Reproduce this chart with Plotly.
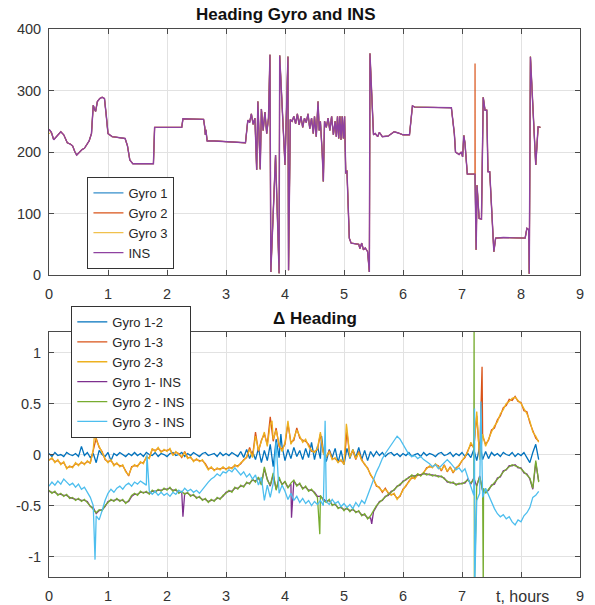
import plotly.graph_objects as go

# ---------------- Top chart: heading (deg) vs time (hours) ----------------
ins_t = [0.00, 0.04, 0.08, 0.14, 0.20, 0.25, 0.31, 0.36, 0.40, 0.44, 0.47, 0.52, 0.56, 0.60,
         0.64, 0.68, 0.72, 0.75, 0.77, 0.79, 0.82, 0.86, 0.90, 0.94, 0.97, 1.00, 1.07, 1.20,
         1.29, 1.33, 1.37, 1.42, 1.60, 1.77, 1.79, 2.00, 2.25, 2.27, 2.45, 2.62, 2.64, 2.65,
         2.66, 2.68, 2.80, 3.00, 3.20, 3.33, 3.37, 3.40, 3.43, 3.46, 3.49, 3.52, 3.54, 3.56,
         3.58, 3.60, 3.63, 3.66, 3.69, 3.72, 3.745, 3.76, 3.84, 3.90, 3.91, 4.00, 4.05, 4.06,
         4.09, 4.12, 4.15, 4.18, 4.21, 4.24, 4.27, 4.30, 4.33, 4.36, 4.39, 4.42, 4.45, 4.48,
         4.50, 4.53, 4.56, 4.58, 4.60, 4.63, 4.65, 4.67, 4.70, 4.73, 4.76, 4.79, 4.82, 4.85,
         4.87, 4.89, 4.91, 4.93, 4.95, 4.97, 4.99, 5.01, 5.03, 5.05, 5.09, 5.12, 5.20, 5.25,
         5.27, 5.30, 5.33, 5.36, 5.40, 5.43, 5.44, 5.50, 5.53, 5.57, 5.60, 5.65, 5.75, 5.80,
         5.85, 5.92, 6.00, 6.11, 6.16, 6.20, 6.50, 6.82, 6.87, 6.89, 6.95, 6.99, 7.01, 7.03,
         7.05, 7.09, 7.22, 7.24, 7.255, 7.29, 7.33, 7.36, 7.39, 7.42, 7.44, 7.47, 7.54, 7.57,
         7.70, 8.07, 8.10, 8.13, 8.14, 8.16, 8.25, 8.29, 8.33]
ins_v = [237, 232, 220, 226, 233, 228, 215, 213, 210, 200, 195, 200, 204, 206,
         212, 218, 230, 276, 270, 266, 282, 287, 289, 287, 260, 230, 225, 223,
         222, 210, 187, 181, 181, 181, 240, 240, 240, 254, 253, 253, 240, 228,
         236, 218, 218, 217, 215, 215, 252, 248, 262, 245, 255, 171, 282, 240,
         172, 270, 235, 265, 230, 255, 358, 5, 195, 3, 357, 179, 355, 8,
         253, 250, 258, 246, 262, 244, 258, 240, 255, 248, 262, 238, 255, 230,
         258, 225, 282, 235, 250, 200, 152, 250, 240, 255, 235, 258, 228, 250,
         225, 258, 222, 258, 220, 258, 222, 258, 165, 170, 60, 52, 50, 50,
         43, 52, 41, 44, 38, 5, 360, 228, 230, 225, 232, 225, 226, 230,
         233, 231, 228, 228, 275, 273, 272, 272, 230, 200, 196, 200, 192, 227,
         215, 164, 164, 41, 146, 92, 91, 289, 268, 268, 168, 168, 38, 60,
         61, 60, 76, 74, 2, 355, 179, 241, 240]

# The three gyro headings lie on top of the INS heading (read as identical),
# except Gyro 3 at the very start and the Gyro 2 spike near 7.22 h.
gyro1_t = list(ins_t)
gyro1_v = list(ins_v)
gyro2_spike = [(7.221, 344), (7.223, 164)]
gyro3_t = list(ins_t)
gyro3_v = [230] + ins_v[1:]

# ---------------- Bottom chart: delta heading vs time ----------------
t_delta = [0.00, 0.05, 0.10, 0.15, 0.20, 0.25, 0.30, 0.35, 0.40, 0.45,
           0.50, 0.55, 0.60, 0.65, 0.70, 0.75, 0.80, 0.85, 0.90, 0.95,
           1.00, 1.05, 1.10, 1.15, 1.20, 1.25, 1.30, 1.35, 1.40, 1.45,
           1.50, 1.55, 1.60, 1.65, 1.70, 1.75, 1.80, 1.85, 1.90, 1.95,
           2.00, 2.05, 2.10, 2.15, 2.20, 2.25, 2.30, 2.35, 2.40, 2.45,
           2.50, 2.55, 2.60, 2.65, 2.70, 2.75, 2.80, 2.85, 2.90, 2.95,
           3.00, 3.05, 3.10, 3.15, 3.20, 3.25, 3.30, 3.35, 3.40, 3.45,
           3.50, 3.55, 3.60, 3.65, 3.70, 3.75, 3.80, 3.85, 3.90, 3.95,
           4.00, 4.05, 4.10, 4.15, 4.20, 4.25, 4.30, 4.35, 4.40, 4.45,
           4.50, 4.55, 4.60, 4.65, 4.70, 4.75, 4.80, 4.85, 4.90, 4.95,
           5.00, 5.05, 5.10, 5.15, 5.20, 5.25, 5.30, 5.35, 5.40, 5.45,
           5.50, 5.55, 5.60, 5.65, 5.70, 5.75, 5.80, 5.85, 5.90, 5.95,
           6.00, 6.05, 6.10, 6.15, 6.20, 6.25, 6.30, 6.35, 6.40, 6.45,
           6.50, 6.55, 6.60, 6.65, 6.70, 6.75, 6.80, 6.85, 6.90, 6.95,
           7.00, 7.05, 7.10, 7.15, 7.20, 7.25, 7.30, 7.35, 7.40, 7.45,
           7.50, 7.55, 7.60, 7.65, 7.70, 7.75, 7.80, 7.85, 7.90, 7.95,
           8.00, 8.05, 8.10, 8.15, 8.20, 8.25, 8.30]

d12 = [0.01, -0.02, 0.02, -0.01, 0.00, -0.02, 0.02, 0.00, -0.01, 0.01,
       -0.02, 0.08, -0.01, 0.02, -0.03, 0.01, -0.08, 0.04, 0.00, -0.02,
       0.02, -0.06, 0.01, -0.01, 0.02, 0.00, -0.02, 0.01, -0.01, 0.02,
       -0.01, 0.01, -0.02, 0.02, 0.00, -0.01, 0.02, -0.02, 0.01, 0.00,
       -0.02, 0.01, 0.02, -0.01, 0.00, 0.02, -0.02, 0.01, -0.01, 0.02,
       0.00, -0.02, 0.01, 0.02, -0.01, 0.00, 0.01, -0.02, 0.02, -0.01,
       0.01, -0.01, 0.02, 0.00, -0.02, 0.03, -0.03, 0.05, -0.04, 0.03,
       -0.05, 0.06, -0.08, 0.04, -0.06, 0.10, -0.12, 0.15, -0.03, 0.08,
       -0.06, 0.05, -0.04, 0.07, -0.02, 0.04, -0.05, 0.06, -0.03, 0.12,
       -0.05, 0.08, -0.04, 0.03, -0.07, 0.05, -0.03, 0.06, -0.08, 0.04,
       -0.10, 0.06, -0.04, 0.05, -0.03, 0.07, -0.05, 0.04, -0.06, 0.03,
       -0.02, 0.03, -0.01, 0.02, -0.02, 0.01, 0.02, -0.01, 0.01, -0.02,
       0.01, -0.01, 0.02, -0.02, 0.00, 0.01, -0.02, 0.02, -0.01, 0.01,
       0.00, -0.02, 0.01, 0.02, -0.01, 0.00, 0.02, -0.02, 0.01, -0.01,
       0.02, -0.02, 0.01, -0.03, 0.05, -0.06, 0.08, -0.05, 0.03, -0.04,
       0.02, -0.01, 0.01, -0.02, 0.02, 0.00, -0.01, 0.02, -0.02, 0.01,
       -0.01, 0.02, -0.03, -0.08, 0.02, 0.10, -0.05]
d12_spikes = [(3.93, 0.20), (4.62, 0.18), (7.30, 0.12)]

d13 = [-0.05, -0.04, -0.07, -0.06, -0.09, -0.08, -0.13, -0.12, -0.12, -0.09,
       -0.10, -0.08, -0.09, -0.07, -0.08, 0.03, 0.16, 0.07, 0.03, -0.05,
       -0.07, -0.06, -0.10, -0.09, -0.11, -0.11, -0.16, -0.21, -0.12, -0.11,
       -0.11, -0.08, -0.08, -0.03, -0.03, 0.05, 0.04, 0.06, 0.03, 0.04,
       0.04, 0.05, 0.00, 0.02, 0.01, -0.03, 0.03, -0.03, -0.03, -0.06,
       -0.05, -0.06, -0.06, -0.09, -0.14, -0.13, -0.15, -0.14, -0.14, -0.13,
       -0.14, -0.13, -0.13, -0.11, -0.11, -0.09, -0.05, -0.03, 0.07, -0.02,
       0.22, 0.03, 0.14, 0.20, 0.10, 0.37, 0.13, 0.26, 0.08, 0.05,
       0.10, 0.30, 0.12, 0.14, 0.26, 0.16, 0.14, 0.13, 0.10, 0.03,
       0.03, 0.05, 0.20, 0.02, -0.03, 0.04, -0.04, -0.04, -0.07, -0.06,
       -0.09, 0.22, -0.02, 0.04, -0.05, 0.03, -0.05, -0.10, -0.13, -0.20,
       -0.24, -0.31, -0.32, -0.37, -0.33, -0.38, -0.39, -0.39, -0.43, -0.41,
       -0.34, -0.31, -0.26, -0.23, -0.23, -0.20, -0.20, -0.18, -0.13, -0.12,
       -0.12, -0.10, -0.11, -0.16, -0.10, -0.17, -0.12, -0.18, -0.13, -0.11,
       -0.06, -0.03, 0.04, 0.10, 0.07, 0.38, -0.03, 0.18, 0.10, 0.14,
       0.24, 0.26, 0.34, 0.38, 0.46, 0.48, 0.54, 0.53, 0.57, 0.52,
       0.51, 0.43, 0.42, 0.31, 0.24, 0.16, 0.13]
d13_spikes = [(7.34, 0.86)]

d23 = [-0.06, -0.03, -0.08, -0.05, -0.10, -0.07, -0.14, -0.11, -0.13, -0.08,
       -0.11, -0.07, -0.10, -0.06, -0.09, 0.05, 0.14, 0.08, 0.02, -0.04,
       -0.08, -0.05, -0.11, -0.08, -0.12, -0.10, -0.17, -0.20, -0.13, -0.10,
       -0.12, -0.07, -0.09, -0.02, -0.04, 0.06, 0.03, 0.07, 0.02, 0.05,
       0.03, 0.06, -0.01, 0.03, 0.00, -0.02, 0.02, -0.04, -0.02, -0.07,
       -0.04, -0.07, -0.05, -0.10, -0.15, -0.12, -0.16, -0.13, -0.15, -0.12,
       -0.15, -0.12, -0.14, -0.10, -0.12, -0.08, -0.06, -0.02, 0.05, -0.03,
       0.18, 0.04, 0.12, 0.22, 0.08, 0.30, 0.15, 0.24, 0.10, 0.03,
       0.12, 0.33, 0.10, 0.16, 0.24, 0.18, 0.12, 0.15, 0.08, 0.04,
       0.02, 0.06, 0.22, 0.01, -0.02, 0.03, -0.05, -0.03, -0.08, -0.05,
       -0.10, 0.26, -0.03, 0.05, -0.04, 0.02, -0.06, -0.09, -0.14, -0.19,
       -0.25, -0.30, -0.33, -0.36, -0.34, -0.37, -0.40, -0.38, -0.44, -0.40,
       -0.35, -0.30, -0.27, -0.22, -0.24, -0.19, -0.21, -0.17, -0.14, -0.11,
       -0.13, -0.09, -0.12, -0.15, -0.11, -0.16, -0.13, -0.17, -0.14, -0.10,
       -0.07, -0.02, 0.03, 0.12, 0.06, 0.42, -0.05, 0.20, 0.08, 0.16,
       0.22, 0.28, 0.32, 0.40, 0.44, 0.50, 0.52, 0.55, 0.56, 0.53,
       0.50, 0.45, 0.40, 0.33, 0.22, 0.18, 0.12]
d23_spikes = [(0.78, 0.26), (3.78, 0.33), (5.04, 0.30)]

d1i = [-0.36, -0.37, -0.37, -0.39, -0.39, -0.40, -0.40, -0.42, -0.43, -0.44,
       -0.44, -0.45, -0.45, -0.46, -0.51, -0.52, -0.58, -0.55, -0.54, -0.51,
       -0.46, -0.45, -0.45, -0.44, -0.45, -0.45, -0.47, -0.46, -0.41, -0.39,
       -0.39, -0.37, -0.37, -0.37, -0.38, -0.36, -0.36, -0.35, -0.35, -0.34,
       -0.34, -0.33, -0.35, -0.35, -0.37, -0.37, -0.38, -0.38, -0.40, -0.40,
       -0.42, -0.42, -0.44, -0.44, -0.46, -0.45, -0.45, -0.43, -0.43, -0.41,
       -0.37, -0.36, -0.36, -0.33, -0.33, -0.31, -0.31, -0.28, -0.28, -0.25,
       -0.26, -0.23, -0.29, -0.14, -0.24, -0.31, -0.20, -0.34, -0.24, -0.29,
       -0.27, -0.32, -0.29, -0.26, -0.30, -0.29, -0.33, -0.32, -0.35, -0.35,
       -0.37, -0.41, -0.41, -0.44, -0.46, -0.45, -0.49, -0.49, -0.52, -0.52,
       -0.54, -0.53, -0.55, -0.54, -0.56, -0.56, -0.59, -0.59, -0.62, -0.62,
       -0.56, -0.51, -0.46, -0.45, -0.41, -0.40, -0.36, -0.35, -0.31, -0.30,
       -0.26, -0.25, -0.22, -0.21, -0.21, -0.20, -0.20, -0.19, -0.19, -0.20,
       -0.20, -0.21, -0.21, -0.22, -0.23, -0.27, -0.27, -0.28, -0.29, -0.29,
       -0.28, -0.28, -0.24, -0.29, -0.23, -0.31, -0.21, -0.36, -0.37, -0.35,
       -0.30, -0.29, -0.23, -0.22, -0.16, -0.15, -0.11, -0.11, -0.10, -0.13,
       -0.13, -0.18, -0.19, -0.24, -0.34, -0.08, -0.26]
d1i_spikes = [(2.27, -0.61), (4.11, -0.62), (5.47, -0.68)]

d2i = [-0.35, -0.38, -0.36, -0.40, -0.38, -0.41, -0.39, -0.43, -0.42, -0.45,
       -0.43, -0.46, -0.44, -0.47, -0.50, -0.53, -0.57, -0.54, -0.55, -0.50,
       -0.47, -0.44, -0.46, -0.43, -0.46, -0.44, -0.48, -0.45, -0.40, -0.38,
       -0.40, -0.36, -0.38, -0.36, -0.39, -0.35, -0.37, -0.34, -0.36, -0.33,
       -0.35, -0.32, -0.36, -0.34, -0.38, -0.36, -0.39, -0.37, -0.41, -0.39,
       -0.43, -0.41, -0.45, -0.43, -0.47, -0.44, -0.46, -0.42, -0.44, -0.40,
       -0.38, -0.35, -0.37, -0.32, -0.34, -0.30, -0.32, -0.27, -0.29, -0.24,
       -0.27, -0.22, -0.30, -0.12, -0.25, -0.30, -0.18, -0.35, -0.22, -0.30,
       -0.26, -0.33, -0.28, -0.25, -0.31, -0.28, -0.34, -0.31, -0.36, -0.34,
       -0.38, -0.42, -0.40, -0.45, -0.47, -0.44, -0.50, -0.48, -0.53, -0.51,
       -0.55, -0.52, -0.56, -0.53, -0.57, -0.55, -0.60, -0.58, -0.63, -0.60,
       -0.55, -0.50, -0.47, -0.44, -0.42, -0.39, -0.37, -0.34, -0.32, -0.29,
       -0.27, -0.24, -0.23, -0.20, -0.22, -0.19, -0.21, -0.18, -0.20, -0.19,
       -0.21, -0.20, -0.22, -0.21, -0.24, -0.26, -0.28, -0.27, -0.30, -0.28,
       -0.29, -0.27, -0.25, -0.28, -0.24, -0.30, -0.22, -0.35, -0.38, -0.34,
       -0.31, -0.28, -0.24, -0.21, -0.17, -0.14, -0.12, -0.10, -0.11, -0.12,
       -0.14, -0.17, -0.20, -0.23, -0.33, -0.06, -0.27]
d2i_spikes = [(4.59, -0.78), (7.205, 1.30), (7.21, -1.30), (7.36, -1.30), (7.365, -0.33)]

d3i = [-0.31, -0.27, -0.30, -0.26, -0.29, -0.24, -0.27, -0.30, -0.28, -0.32,
       -0.29, -0.34, -0.32, -0.37, -0.42, -0.50, -0.60, -0.64, -0.55, -0.45,
       -0.38, -0.34, -0.37, -0.33, -0.31, -0.34, -0.30, -0.28, -0.31, -0.27,
       -0.29, -0.26, -0.28, -0.30, -0.36, -0.39, -0.36, -0.40, -0.37, -0.40,
       -0.38, -0.41, -0.37, -0.39, -0.35, -0.37, -0.33, -0.36, -0.34, -0.37,
       -0.35, -0.38, -0.34, -0.30, -0.27, -0.24, -0.22, -0.19, -0.21, -0.17,
       -0.18, -0.15, -0.17, -0.13, -0.16, -0.20, -0.17, -0.22, -0.19, -0.24,
       -0.20, -0.30, -0.22, -0.45, -0.30, -0.42, -0.28, 0.12, -0.38, -0.30,
       -0.36, -0.44, -0.38, -0.45, -0.41, -0.47, -0.43, -0.48, -0.45, -0.50,
       -0.46, -0.49, -0.45, -0.50, -0.46, -0.49, -0.44, -0.48, -0.46, -0.51,
       -0.48, -0.52, -0.49, -0.53, -0.47, -0.51, -0.45, -0.48, -0.40, -0.33,
       -0.25, -0.17, -0.11, -0.04, 0.01, 0.05, 0.09, 0.13, 0.18, 0.15,
       0.10, 0.04, 0.00, -0.02, -0.01, -0.04, -0.02, -0.05, -0.07, -0.09,
       -0.12, -0.10, -0.14, -0.11, -0.08, -0.05, -0.08, -0.12, -0.15, -0.13,
       -0.17, -0.14, -0.22, -0.30, -0.40, -0.45, -0.38, -0.42, -0.33, -0.40,
       -0.47, -0.53, -0.58, -0.61, -0.59, -0.63, -0.61, -0.66, -0.69, -0.64,
       -0.66, -0.60, -0.57, -0.52, -0.42, -0.40, -0.36]
d3i_spikes = [(0.78, -1.03), (1.66, 0.00), (4.68, 0.33), (7.212, 0.45),
              (7.215, -1.30), (7.32, 0.52)]

top_names = ["Gyro 1", "Gyro 2", "Gyro 3", "INS"]
bottom_names = ["Gyro 1-2", "Gyro 1-3", "Gyro 2-3", "Gyro 1- INS", "Gyro 2 - INS", "Gyro 3 - INS"]
colors = ["#0072BD", "#D95319", "#EDB120", "#7E2F8E", "#77AC30", "#4DBEEE"]
x_ticks = [0, 1, 2, 3, 4, 5, 6, 7, 8, 9]
top_y_ticks = [0, 100, 200, 300, 400]
bottom_y_ticks = [-1, -0.5, 0, 0.5, 1]
bottom_y_labels = ["-1", "-0.5", "0", "0.5", "1"]


def merged(ts, vs, extra):
    pts = list(zip(ts, vs)) + list(extra)
    pts.sort(key=lambda p: p[0])
    return [p[0] for p in pts], [p[1] for p in pts]


FONT = "Liberation Sans, Arial, Helvetica, sans-serif"
fig = go.Figure()

gyro2_t, gyro2_v = merged(ins_t, ins_v, gyro2_spike)
top_series = [(gyro1_t, gyro1_v, 1.0), (gyro2_t, gyro2_v, 1.2), (gyro3_t, gyro3_v, 1.0),
              (ins_t, ins_v, 1.4)]
top_colors = ["#0072BD", "#D95319", "#EDB120", "#8E42A0"]
for (ts, vs, w), name, c in zip(top_series, top_names, top_colors):
    fig.add_trace(go.Scatter(x=ts, y=vs, mode="lines", name=name,
                             line=dict(color=c, width=w), xaxis="x", yaxis="y",
                             legend="legend"))

bottom_series = [(d12, d12_spikes), (d13, d13_spikes), (d23, d23_spikes),
                 (d1i, d1i_spikes), (d2i, d2i_spikes), (d3i, d3i_spikes)]
for (vals, sp), name, c in zip(bottom_series, bottom_names, colors):
    xs, ys = merged(t_delta, vals, sp)
    fig.add_trace(go.Scatter(x=xs, y=ys, mode="lines", name=name,
                             line=dict(color=c, width=1.3), xaxis="x2", yaxis="y2",
                             legend="legend2"))

axis_common = dict(showgrid=True, gridcolor="#e2e2e2", gridwidth=1, showline=True,
                   linecolor="#4a4a4a", linewidth=1, mirror="allticks", ticks="inside",
                   ticklen=5, tickcolor="#4a4a4a", zeroline=False, automargin=False,
                   tickfont=dict(family=FONT, size=14.5, color="#333333"))

legend_common = dict(xanchor="left", yanchor="top", bgcolor="white",
                     bordercolor="#333333", borderwidth=1, tracegroupgap=0,
                     font=dict(family=FONT, size=13, color="#262626"))

fig.update_layout(
    width=595, height=605,
    margin=dict(l=48.5, r=15, t=29, b=28, autoexpand=False),
    paper_bgcolor="white", plot_bgcolor="white",
    showlegend=True,
    xaxis=dict(domain=[0, 1], range=[0, 9], tickvals=x_ticks, anchor="y",
               ticklabelstandoff=6, **axis_common),
    yaxis=dict(domain=[0.551, 1], range=[0, 400], tickvals=top_y_ticks, anchor="x",
               ticklabelstandoff=4, **axis_common),
    xaxis2=dict(domain=[0, 1], range=[0, 9], tickvals=x_ticks,
                ticktext=["0", "1", "2", "3", "4", "5", "6", "7", "", "9"], anchor="y2",
                ticklabelstandoff=6, **axis_common),
    yaxis2=dict(domain=[0, 0.447], range=[-1.2, 1.2], tickvals=bottom_y_ticks,
                ticktext=bottom_y_labels, anchor="x2", ticklabelstandoff=4, **axis_common),
    legend=dict(x=0.0724, y=0.730, **legend_common),
    legend2=dict(x=0.042, y=0.4945, **legend_common),
    annotations=[
        dict(text="<b>Heading Gyro and INS</b>", x=0.445, y=1.027, xref="paper", yref="paper",
             xanchor="center", yanchor="middle", showarrow=False,
             font=dict(family=FONT, size=17, color="#111111")),
        dict(text="<b>\u0394 Heading</b>", x=0.5014, y=0.471, xref="paper", yref="paper",
             xanchor="center", yanchor="middle", showarrow=False,
             font=dict(family=FONT, size=17, color="#111111")),
        dict(text="t, hours", x=8.03, y=-0.0347, xref="x2", yref="paper",
             xanchor="center", yanchor="middle", showarrow=False,
             font=dict(family=FONT, size=16, color="#333333")),
    ],
)

# remove the browser's default 8px page margin so the figure fills the window exactly
fig.write_html("out.html",
               config={"displayModeBar": False},
               post_script="document.body.style.margin='0';document.body.style.overflow='hidden';")
